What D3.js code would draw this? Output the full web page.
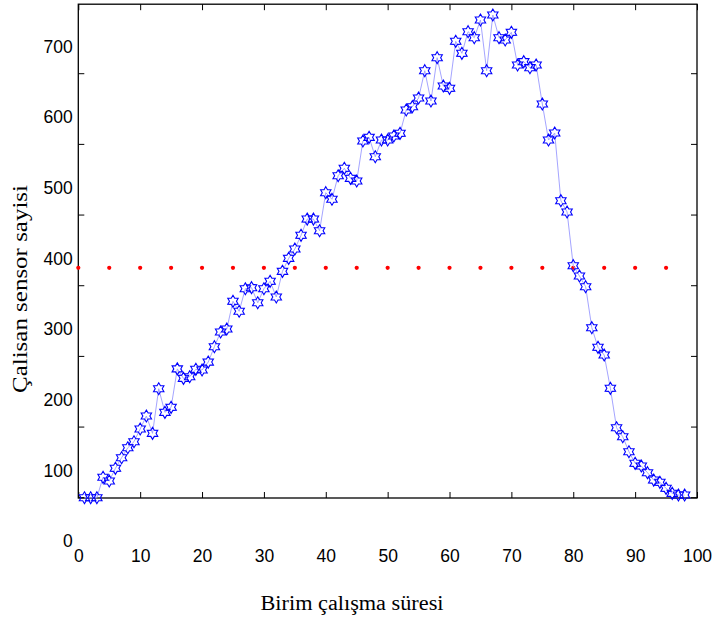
<!DOCTYPE html>
<html><head><meta charset="utf-8">
<script src="https://cdn.jsdelivr.net/npm/d3@7"></script>
<style>
body{margin:0;background:#fff;}
svg{display:block;}
.tick text{font-family:"Liberation Sans",Arial,sans-serif;font-size:17.5px;fill:#000;}
</style></head>
<body>
<svg id="c" width="715" height="619"></svg>
<script>
// data
const sensorCounts = [61.7,61.7,61.7,90.6,85.3,103.3,118.3,132.4,140.9,158.9,
177.3,152.8,215.9,182.5,189.6,244,230.6,232.9,243.4,242.4,
253.6,275.4,296.2,300.4,339.6,325.5,357.4,358.9,337.6,357.4,
367.9,345.7,382,400.4,413.6,433,456,456,439.5,493.3,
484,517.3,527.8,513.6,509.8,566.4,571.6,544.2,567.8,567.8,
573.5,577.3,610.3,615,627.3,665.9,623,684.3,644.3,641,
707.5,690.5,721.1,712.6,737.7,665.9,744.7,712.6,709.4,720.2,
674,678.7,670.2,674,618.8,567.8,577.7,482,466,390,
375.4,360.3,302.3,274.5,263.6,216.5,160.7,148,126.8,110.4,
106.6,97.1,86.7,83.5,75,67.9,65.5,65.5];
const meanValue = 387;
const meanX = [0,5,10,15,20,25,30,35,40,45,50,55,60,65,70,75,80,85,90,95];
const xTicks = [0,10,20,30,40,50,60,70,80,90,100];
const yTicks = [0,100,200,300,400,500,600,700];
const yTickMarks = [100,200,300,400,500,600,700];
const xTitle = "Birim çalışma süresi";
const yTitle = "Çalisan sensor sayisi";

const svg = d3.select("#c");
const L = 78.3, R = 697, T = 4.2, B = 498;
const x = d3.scaleLinear().domain([0,100]).range([L,R]);
const y = d3.scaleLinear().domain([61.3,760]).range([B,T]);

// tick marks (inward), offset from labels as in the reference
const tickOff = 26.6;
svg.append("g").attr("transform",`translate(${L},${tickOff})`)
  .call(d3.axisLeft(y).tickValues(yTickMarks).tickSize(-6).tickFormat(""))
  .call(g=>g.select(".domain").remove());
svg.append("g").attr("transform",`translate(${R},${tickOff})`)
  .call(d3.axisRight(y).tickValues(yTickMarks).tickSize(-6).tickFormat(""))
  .call(g=>g.select(".domain").remove());
svg.append("g").attr("transform",`translate(0,${B})`)
  .call(d3.axisBottom(x).tickValues(xTicks).tickSize(-6).tickFormat(""))
  .call(g=>g.select(".domain").remove());
svg.append("g").attr("transform",`translate(0,${T})`)
  .call(d3.axisTop(x).tickValues(xTicks).tickSize(-6).tickFormat(""))
  .call(g=>g.select(".domain").remove());
svg.selectAll(".tick line").attr("stroke","#000").attr("stroke-width",1);

// tick labels
svg.append("g").attr("transform",`translate(${L},0)`)
  .call(d3.axisLeft(y).tickValues(yTicks).tickSize(0).tickPadding(5.5).tickFormat(d3.format("d")))
  .call(g=>g.select(".domain").remove());
svg.append("g").attr("transform",`translate(0,${B+52})`)
  .call(d3.axisBottom(x).tickValues(xTicks).tickSize(0).tickPadding(0).tickFormat(d3.format("d")))
  .call(g=>g.select(".domain").remove());

// frame
svg.append("rect").attr("x",L).attr("y",T).attr("width",R-L).attr("height",B-T)
  .attr("fill","none").attr("stroke","#000").attr("stroke-width",1.3);

// mean line (dots)
svg.append("g").selectAll("circle").data(meanX).join("circle")
  .attr("cx",d=>x(d)).attr("cy",y(meanValue)).attr("r",2.1).attr("fill","#ff0000");

// series line
const pts = sensorCounts.map((v,i)=>[i+1,v]);
svg.append("path").datum(pts)
  .attr("fill","none").attr("stroke","#9a9aff").attr("stroke-width",0.9)
  .attr("d",d3.line().x(d=>x(d[0])).y(d=>y(d[1])));

// hexagram markers
function hexagram(ro, ri){
  const p=[];
  for(let k=0;k<12;k++){
    const a = -Math.PI/2 + k*Math.PI/6;
    const r = k%2===0?ro:ri;
    p.push([r*Math.cos(a), r*Math.sin(a)]);
  }
  return "M"+p.map(q=>q[0].toFixed(2)+","+q[1].toFixed(2)).join("L")+"Z";
}
const star = hexagram(6,3.5);
svg.append("g").selectAll("path").data(pts).join("path")
  .attr("transform",d=>`translate(${x(d[0])},${y(d[1])})`)
  .attr("d",star).attr("fill","none").attr("stroke","#0000ff").attr("stroke-width",1.1);

// titles
svg.append("text").attr("x",352).attr("y",610).attr("text-anchor","middle")
  .attr("font-family","'Liberation Serif','Times New Roman',serif").attr("font-size",20)
  .attr("textLength",183).attr("lengthAdjust","spacingAndGlyphs")
  .text(xTitle);
svg.append("text").attr("transform","translate(27,289) rotate(-90)").attr("text-anchor","middle")
  .attr("font-family","'Liberation Serif','Times New Roman',serif").attr("font-size",20)
  .attr("textLength",208).attr("lengthAdjust","spacingAndGlyphs")
  .text(yTitle);
</script>
</body></html>
